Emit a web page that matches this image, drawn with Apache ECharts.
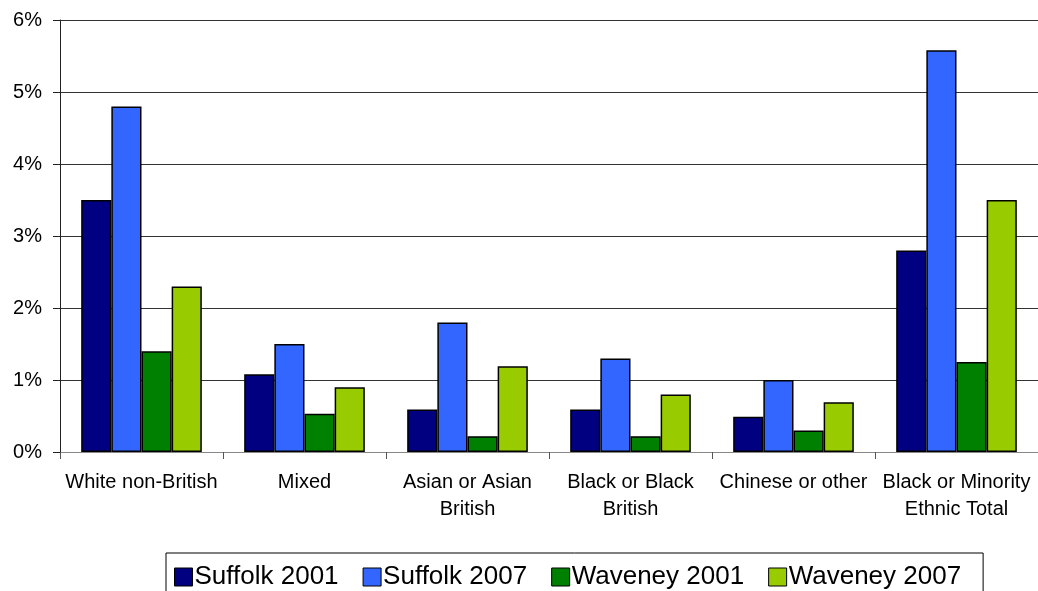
<!DOCTYPE html>
<html>
<head>
<meta charset="utf-8">
<title>Ethnic groups – Suffolk and Waveney</title>
<script src="https://cdn.jsdelivr.net/npm/echarts@6/dist/echarts.min.js"></script>
<style>
  html, body { margin: 0; padding: 0; background: #ffffff; }
  #chart { width: 1038px; height: 591px; }
</style>
</head>
<body>
<div id="chart"></div>
<script>
// Ethnic groups as a share of population (%)
const categories = [
  'White non-British',
  'Mixed',
  'Asian or Asian\nBritish',
  'Black or Black\nBritish',
  'Chinese or other',
  'Black or Minority\nEthnic Total'
];
const suffolk2001 = [3.5, 1.08, 0.59, 0.59, 0.49, 2.8];
const suffolk2007 = [4.8, 1.5, 1.8, 1.3, 1.0, 5.58];
const waveney2001 = [1.4, 0.53, 0.22, 0.22, 0.3, 1.25];
const waveney2007 = [2.3, 0.9, 1.19, 0.8, 0.69, 3.5];

const seriesNames = ['Suffolk 2001', 'Suffolk 2007', 'Waveney 2001', 'Waveney 2007'];
const seriesColors = ['#000080', '#3366FF', '#008000', '#99CC00'];
const seriesData = [suffolk2001, suffolk2007, waveney2001, waveney2007];

const FONT = '"Liberation Sans", Arial, sans-serif';

const chart = echarts.init(document.getElementById('chart'), null, { renderer: 'canvas' });

chart.setOption({
  animation: false,
  backgroundColor: '#ffffff',
  grid: { left: 60, right: 0, top: 20, bottom: 139 },
  legend: {
    left: 166,
    top: 553,
    padding: [11, 22, 30, 8],
    borderColor: '#000',
    borderWidth: 1,
    icon: 'rect',
    itemWidth: 18,
    itemHeight: 18,
    itemGap: 24,
    itemStyle: { borderColor: '#000', borderWidth: 1 },
    textStyle: { fontFamily: FONT, fontSize: 26, color: '#000', padding: [0, 0, 0, -3] },
    data: seriesNames
  },
  xAxis: {
    type: 'category',
    data: categories,
    axisLine: { lineStyle: { color: '#888', width: 1 } },
    axisTick: { show: true, length: 7, lineStyle: { color: '#555' } },
    axisLabel: {
      interval: 0,
      margin: 17,
      fontFamily: FONT,
      fontSize: 20,
      lineHeight: 27,
      color: '#000'
    }
  },
  yAxis: {
    type: 'value',
    min: 0,
    max: 6,
    interval: 1,
    axisLine: { show: true, lineStyle: { color: '#222', width: 1 } },
    axisTick: { show: true, length: 7, lineStyle: { color: '#222' } },
    splitLine: { lineStyle: { color: '#333', width: 1 } },
    axisLabel: {
      margin: 18,
      fontFamily: FONT,
      fontSize: 20,
      color: '#000',
      formatter: v => v + '%'
    }
  },
  series: seriesNames.map((name, i) => ({
    name: name,
    type: 'bar',
    data: seriesData[i],
    barGap: '0%',
    barCategoryGap: '26%',
    itemStyle: { color: seriesColors[i], borderColor: '#000', borderWidth: 1.5 }
  }))
});
</script>
</body>
</html>
